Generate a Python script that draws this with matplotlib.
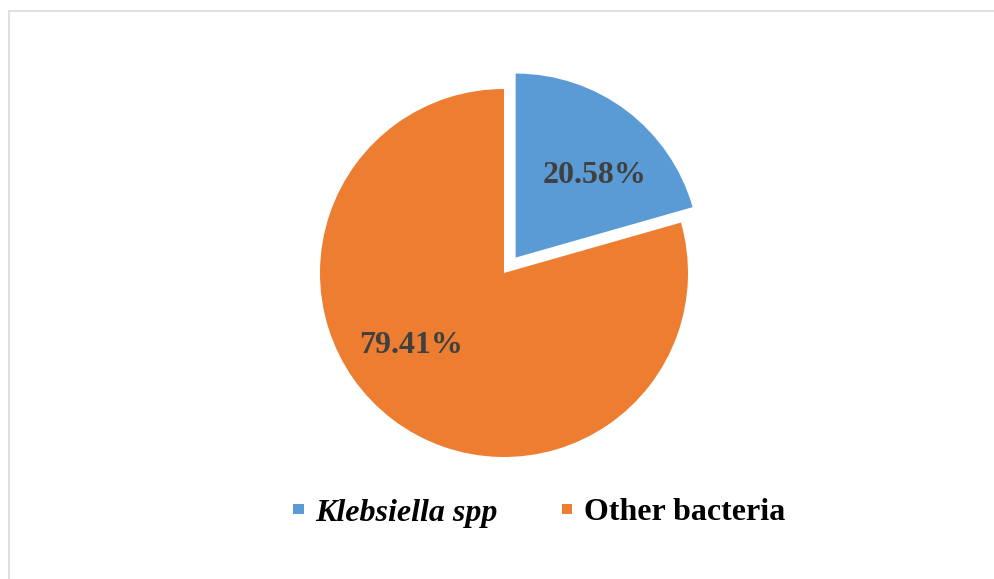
import matplotlib.pyplot as plt
from matplotlib.patches import Rectangle
import numpy as np

categories = ["Klebsiella spp", "Other bacteria"]
shares = [20.58, 79.41]
colors = ["#5B9BD5", "#ED7D31"]
explode = [0.105, 0.0]

plt.rcParams["font.family"] = ["Liberation Serif", "DejaVu Serif"]

fig = plt.figure(figsize=(9.95, 5.79), dpi=100)
W, H = 995, 579
# pie axes, 460 px square
ax = fig.add_axes([274 / W, 76 / H, 460 / W, 460 / H])
ax.set_xlim(-1.25, 1.25)
ax.set_ylim(-1.25, 1.25)
ax.set_aspect("equal")
ax.axis("off")

wedges, _ = ax.pie(shares, colors=colors, explode=explode, startangle=90,
                   counterclock=False, radius=1.0,
                   wedgeprops=dict(linewidth=0))

# value labels placed inside each wedge
label_angles = [46, -142]
label_dist = [0.62, 0.64]
for w, val, ang, d in zip(wedges, shares, label_angles, label_dist):
    cx, cy = w.center
    a = np.deg2rad(ang)
    ax.text(cx + d * np.cos(a), cy + d * np.sin(a), f"{val:.2f}%",
            ha="center", va="center", fontsize=23, fontweight="bold",
            color="#404040")

leg = fig.legend(wedges, categories, loc="center", bbox_to_anchor=(539 / W, 1 - 513 / H),
                 ncol=2, frameon=False, prop=dict(size=23, weight="bold"),
                 handlelength=0.33, handleheight=0.12, handletextpad=0.36,
                 columnspacing=2.0)
leg.get_texts()[0].set_style("italic")

# light chart border
fig.patches.append(Rectangle((9 / W, -0.1), 1.2, (H - 11) / H + 0.1,
                             transform=fig.transFigure, fill=False,
                             edgecolor="#D9D9D9", linewidth=1.2))

fig.savefig("out.png", dpi=100)
